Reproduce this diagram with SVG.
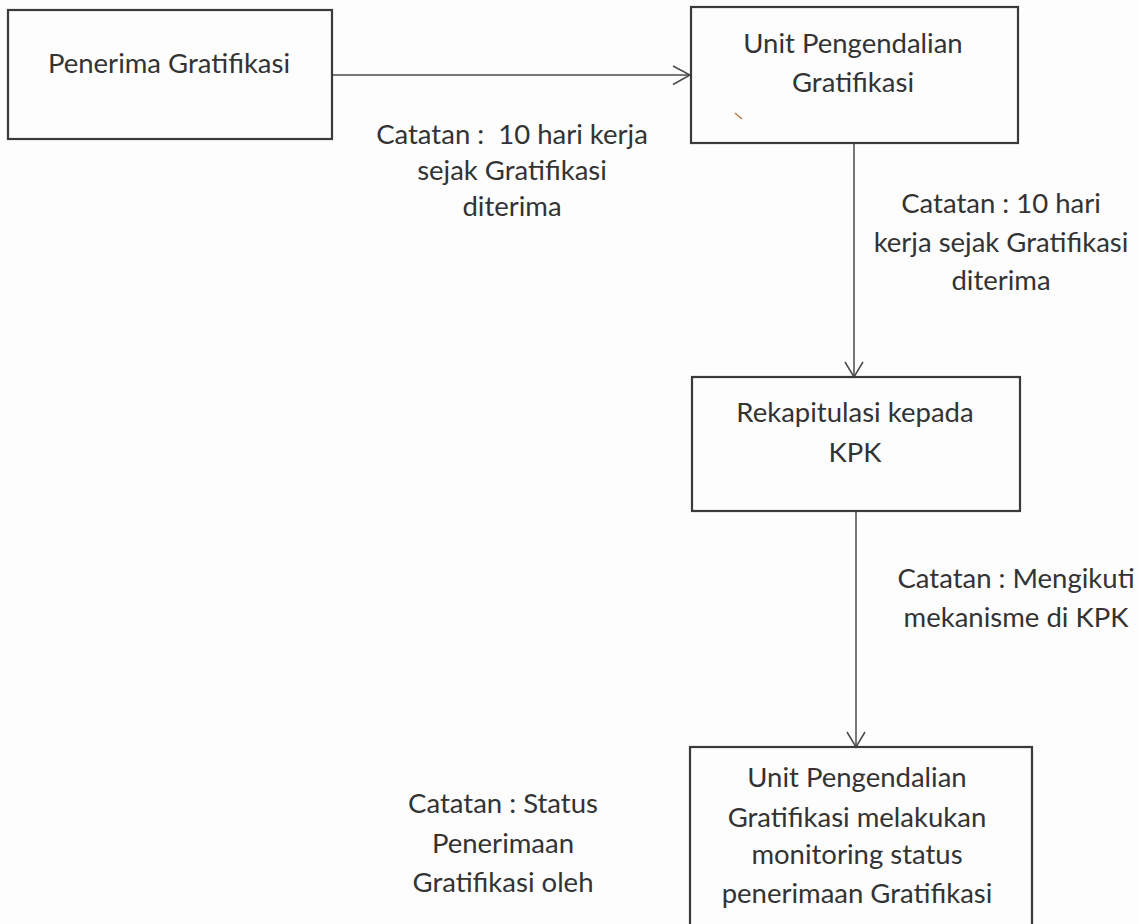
<svg xmlns="http://www.w3.org/2000/svg" width="1139" height="924" viewBox="0 0 1139 924">
<style>
.box{fill:none;stroke:#3a3a3a;stroke-width:2.2}
.conn{fill:none;stroke:#4a4a4a;stroke-width:1.5}
.head{fill:none;stroke:#4a4a4a;stroke-width:1.5;stroke-linejoin:miter}
text{font-family:Lato,"Open Sans","Liberation Sans",sans-serif;font-size:27.5px;fill:#333;text-anchor:middle}
</style>
<rect width="1139" height="924" fill="#fdfdfd"/>
<g id="connectors">
<line class="conn" x1="332" y1="75" x2="690" y2="75"/>
<polyline class="head" points="673,66 690,75 673,84.5"/>
<line class="conn" x1="854" y1="143" x2="854" y2="377"/>
<polyline class="head" points="845,362 854,377 863,362"/>
<line class="conn" x1="856" y1="511" x2="856" y2="747"/>
<polyline class="head" points="847,732 856,747 865,732"/>
</g>
<g id="node-penerima">
<rect class="box" x="8" y="10" width="324" height="129"/>
<text x="169" y="73">Penerima Gratifikasi</text>
</g>
<g id="node-upg">
<rect class="box" x="691" y="7" width="327" height="136"/>
<text x="853" y="53">Unit Pengendalian</text>
<text x="853" y="92">Gratifikasi</text>
<path d="M735,113 L742,119" stroke="#b87a4a" stroke-width="1.5" fill="none"/>
</g>
<g id="node-rekap">
<rect class="box" x="692" y="377" width="328" height="134"/>
<text x="855" y="422">Rekapitulasi kepada</text>
<text x="855" y="462">KPK</text>
</g>
<g id="node-monitoring">
<rect class="box" x="690" y="747" width="342" height="190"/>
<text x="857" y="787">Unit Pengendalian</text>
<text x="857" y="827">Gratifikasi melakukan</text>
<text x="857" y="864">monitoring status</text>
<text x="857" y="903">penerimaan Gratifikasi</text>
</g>
<g id="notes">
<text x="512" y="144" xml:space="preserve">Catatan :  10 hari kerja</text>
<text x="512" y="180">sejak Gratifikasi</text>
<text x="512" y="216">diterima</text>
<text x="1001" y="213">Catatan : 10 hari</text>
<text x="1001" y="252">kerja sejak Gratifikasi</text>
<text x="1001" y="290">diterima</text>
<text x="1016" y="588">Catatan : Mengikuti</text>
<text x="1016" y="627">mekanisme di KPK</text>
<text x="503" y="813">Catatan : Status</text>
<text x="503" y="853">Penerimaan</text>
<text x="503" y="892">Gratifikasi oleh</text>
</g>
</svg>
